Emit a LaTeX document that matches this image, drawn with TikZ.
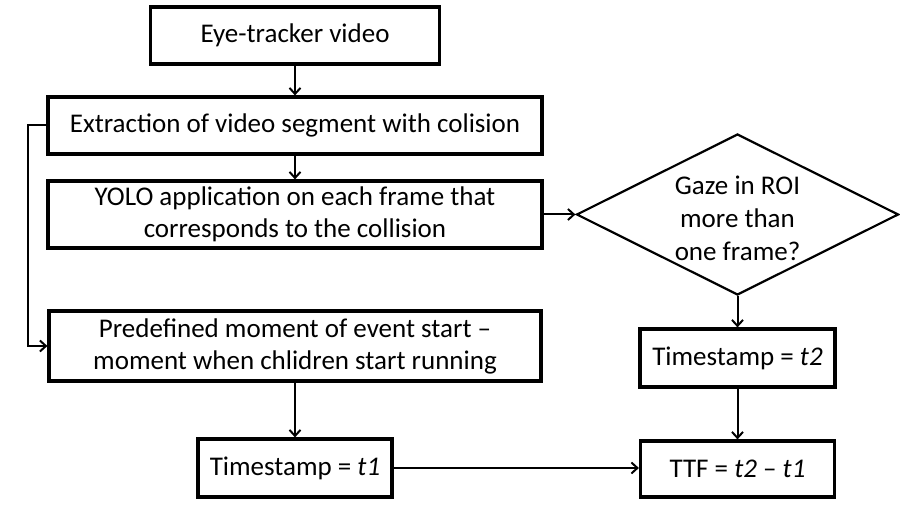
\documentclass[tikz,border=0pt]{standalone}
\usepackage{fontspec}
\setmainfont{Carlito}
\usetikzlibrary{shapes.geometric,arrows.meta}
\begin{document}
\begin{tikzpicture}[x=1pt,y=-1pt,
  box/.style={draw=black,line width=3.2pt,rectangle,inner sep=0pt,align=center,
    font=\fontsize{27}{32}\selectfont},
  dec/.style={draw=black,line width=2.2pt,diamond,inner sep=0pt},
  dectext/.style={inner sep=0pt,align=center,font=\fontsize{27}{33}\selectfont},
  arr/.style={line width=2pt,-{Straight Barb[length=6pt,width=11pt,line width=2pt]}}]
\useasboundingbox (0,0) rectangle (900,510);
\node[box,minimum width=289pt,minimum height=57pt] (eye) at (295,35.5) {Eye-tracker video};
\node[box,minimum width=494pt,minimum height=57pt] (extr) at (295,125.5) {Extraction of video segment with colision};
\node[box,minimum width=494pt,minimum height=67pt] (yolo) at (295,214.5) {YOLO application on each frame that\\corresponds to the collision};
\node[box,minimum width=492pt,minimum height=70pt] (pre) at (295,346) {Predefined moment of event start --\\moment when chlidren start running};
\node[box,minimum width=194pt,minimum height=58pt] (t1) at (295,468) {Timestamp = \textit{t1}};
\node[dec,minimum width=322pt,minimum height=161pt] (dia) at (737.5,214.5) {};
\node[dectext] (diatxt) at (737.5,218) {Gaze in ROI\\more than\\one frame?};
\node[box,minimum width=195pt,minimum height=58pt] (t2) at (737.5,358) {Timestamp = \textit{t2}};
\node[box,minimum width=194pt,minimum height=56pt] (ttf) at (737.5,469) {TTF = \textit{t2} -- \textit{t1}};
\draw[arr] (eye.south) -- (extr.north);
\draw[arr] (extr.south) -- (yolo.north);
\draw[arr] (yolo.east) -- (dia.west);
\draw[arr] (extr.west) -- ++(-18,0) |- (pre.west);
\draw[arr] (pre.south) -- (t1.north);
\draw[arr] (t1.east) -- (t1.east -| ttf.west);
\draw[arr] (dia.south) -- (t2.north);
\draw[arr] (t2.south) -- (ttf.north);
\end{tikzpicture}
\end{document}
